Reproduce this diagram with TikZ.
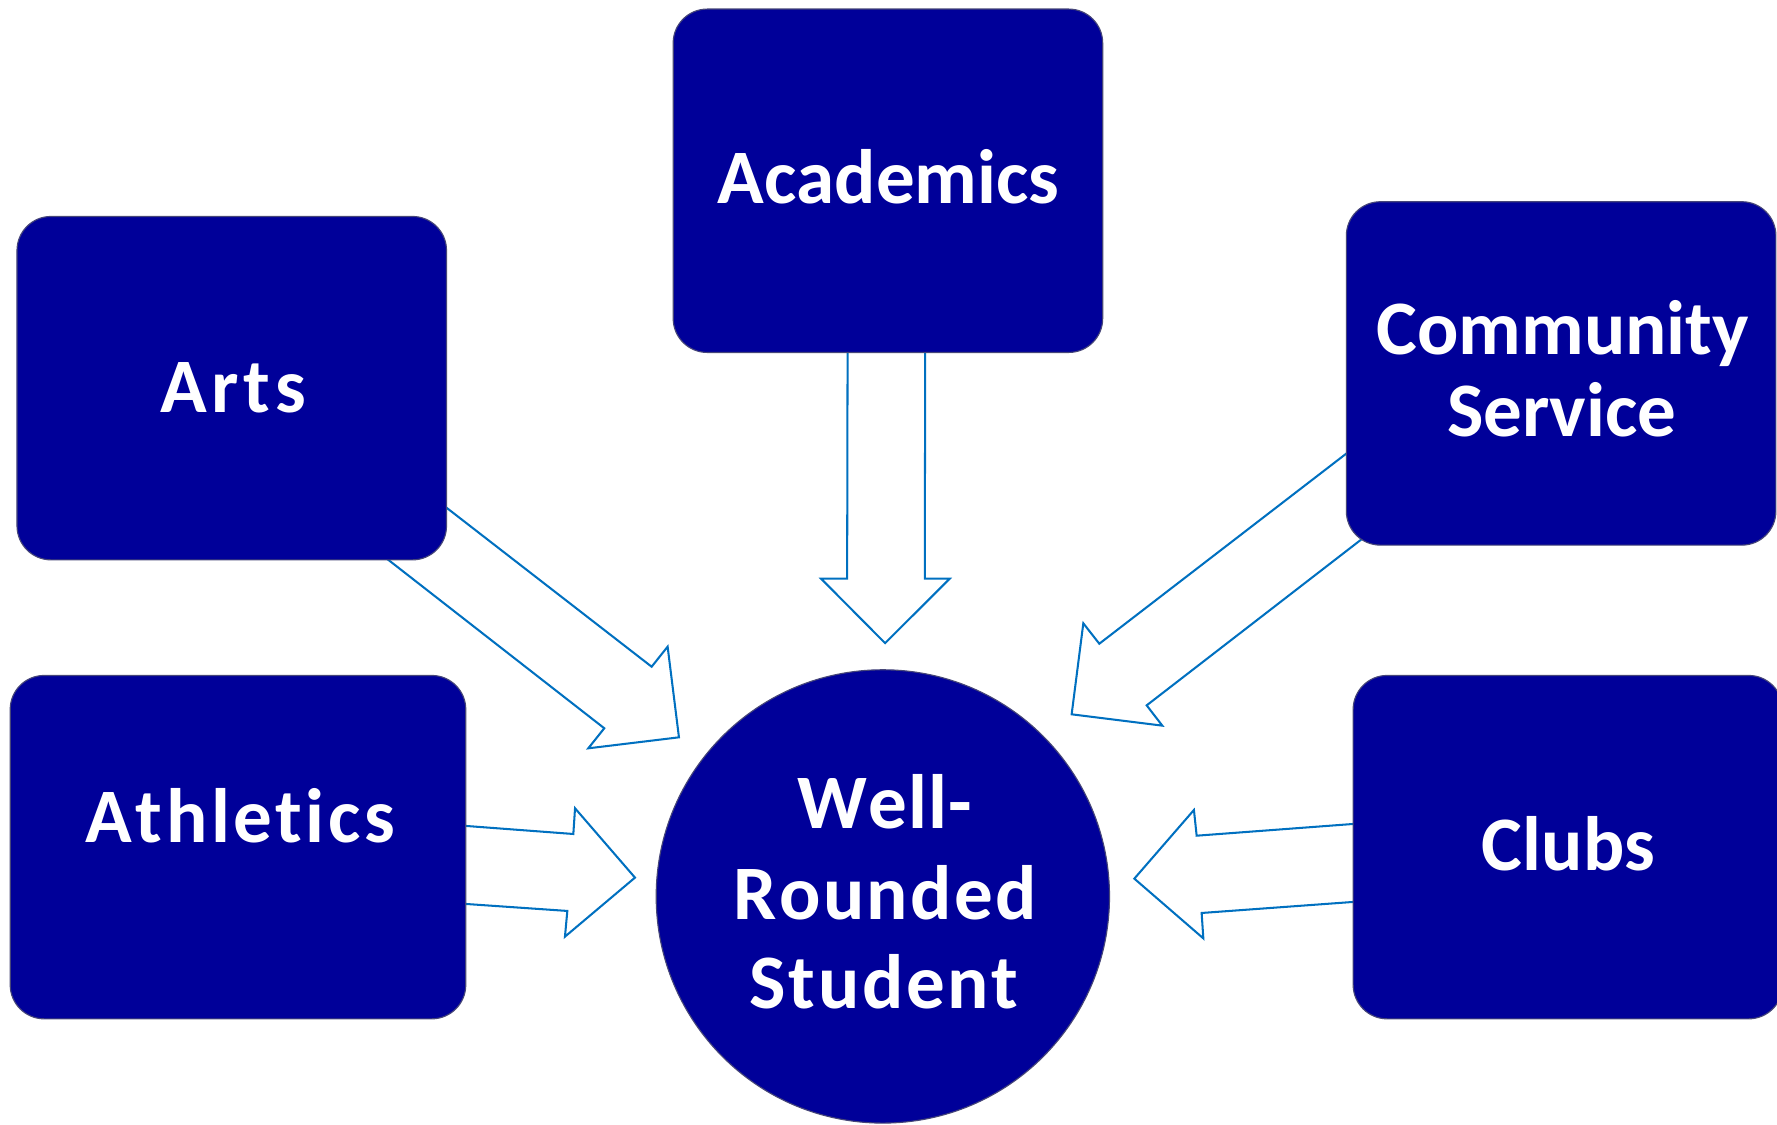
\documentclass[tikz,border=0pt]{standalone}
\usepackage{fontspec}
\setmainfont{Carlito}[Ligatures=NoCommon,Kerning=Off]
\definecolor{boxnavy}{RGB}{0,0,153}
\definecolor{boxedge}{RGB}{70,70,120}
\definecolor{arrowblue}{RGB}{0,112,192}
\newcommand{\spaced}[2]{{\addfontfeature{LetterSpace=#1}#2}}
\begin{document}
\begin{tikzpicture}[x=1pt,y=-1pt,
  box/.style={draw=boxedge, line width=1pt, fill=boxnavy, rounded corners=30pt,
    minimum width=379pt, minimum height=303pt, inner sep=0pt},
  ball/.style={circle, draw=boxedge, line width=1pt, fill=boxnavy,
    minimum size=400pt, inner sep=0pt},
  lbl/.style={text=white, font=\fontsize{68}{80}\selectfont\bfseries,
    anchor=base, inner sep=0pt},
  blockarrow/.style={draw=arrowblue, line width=1.8pt, fill=white, line join=miter}]
\useasboundingbox (0,0) rectangle (1568,992);

% block arrows (drawn first, their backs are hidden under the boxes)
\draw[blockarrow] (748,250) -- (747.5,510.6) -- (724.5,510.6) -- (781,567.5)
  -- (838,510.6) -- (816,510.6) -- (816.5,250) -- cycle;
\draw[blockarrow] (340.6,406.6) -- (575,588.3) -- (589.1,570.6) -- (599.1,650.6)
  -- (519.1,660.3) -- (533.2,642.6) -- (286.6,450.3) -- cycle;
\draw[blockarrow] (1241.8,358.8) -- (970,568) -- (955.9,550) -- (945.6,630.3)
  -- (1025.6,640.3) -- (1011.8,622.4) -- (1247.8,440) -- cycle;
\draw[blockarrow] (370,725.7) -- (505.9,735.9) -- (507.4,713.2) -- (560.3,774.4)
  -- (498.5,826.5) -- (500.6,803.8) -- (370,794.8) -- cycle;
\draw[blockarrow] (1240,723.6) -- (1055.9,737.4) -- (1053.5,714.7) -- (1000.9,775.3)
  -- (1061.8,828) -- (1060.3,805.6) -- (1240,792.5) -- cycle;

% boxes
\node[box] (acad) at (783.5,159.5) {};
\node[box] (arts) at (204.5,342.5) {};
\node[box] (comm) at (1377.5,329.5) {};
\node[box, minimum width=402pt] (ath) at (210,747.5) {};
\node[box] (clubs) at (1383.5,747.5) {};
\node[ball] (wrs) at (779,791) {};

% labels
\node[lbl] (tacad) at (784,180) {Academics};
\node[lbl] (tarts) at (206,364) {\spaced{6}{Arts}};
\node[lbl] (tcomm1) at (1379,313) {Community};
\node[lbl] (tcomm2) at (1378,385) {Service};
\node[lbl] (tath) at (212,743) {\spaced{4.5}{Athletics}};
\node[lbl] (tclubs) at (1384,768) {Clubs};
\node[lbl] (tw1) at (781,731) {\spaced{1.5}{Well-}};
\node[lbl] (tw2) at (781,811) {\spaced{3}{Rounded}};
\node[lbl] (tw3) at (780,890) {\spaced{3.4}{Student}};
\end{tikzpicture}
\end{document}
